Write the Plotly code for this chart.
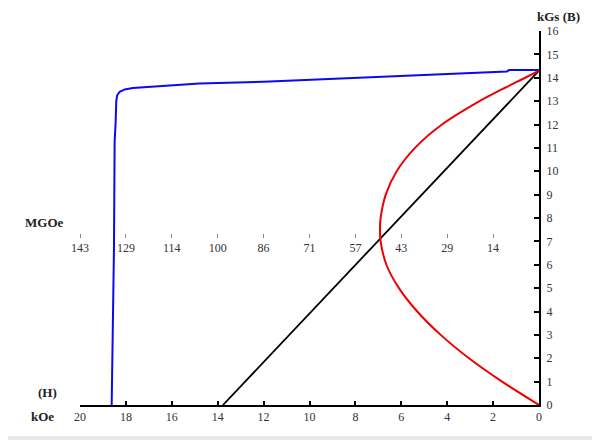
import plotly.graph_objects as go

# ---- data ----
# demagnetization curve (blue): H in kOe, B in kGs
blue_H = [0, 1.3, 1.4, 3.0, 6.0, 9.5, 10.4, 12.0, 14.8, 17.0, 17.7, 18.05, 18.27, 18.38, 18.42, 18.45, 18.49, 18.52, 18.57, 18.62]
blue_B = [14.33, 14.33, 14.27, 14.2, 14.08, 13.94, 13.9, 13.83, 13.75, 13.62, 13.56, 13.5, 13.4, 13.25, 13.0, 12.0, 11.3, 6.7, 3.0, 0.0]

# load line (black): H in kOe, B in kGs
black_H = [0, 13.77]
black_B = [14.3, 0]

# energy product (red): BH in MGOe, B in kGs
red_BH = [0, 11.5, 21.8, 30.6, 37.9, 43.6, 47.5, 49.3, 49.5, 49.3, 47.7, 44.3, 38.6, 30.2, 18.5, 11.6, 4.3, 0]
red_B = [0, 1, 2, 3, 4, 5, 6, 7, 7.5, 8, 9, 10, 11, 12, 13, 13.5, 14, 14.3]

# axes
kOe_ticks = [20, 18, 16, 14, 12, 10, 8, 6, 4, 2, 0]
kGs_ticks = list(range(0, 17))
MGOe_labels = ["143", "129", "114", "100", "86", "71", "57", "43", "29", "14"]
MGOe_at_20kOe = 142.88

# the page is drawn with an 8px body margin
OFF = 8
W, H = 600, 440
# plot area in screenshot pixels: x 80..539, y 31..405
X0, X1, Y0, Y1 = 80 - OFF, 539 - OFF, 31 - OFF, 405 - OFF
L, R, T, B = X0, W - X1, Y0, H - Y1
PW, PH = X1 - X0, Y1 - Y0


def px(x):
    return (x - OFF - X0) / PW


def py(y):
    return (Y1 - (y - OFF)) / PH


fig = go.Figure()
fig.add_trace(go.Scatter(x=blue_H, y=blue_B, mode="lines",
                         line=dict(color="#0a0af0", width=2), xaxis="x", yaxis="y"))
fig.add_trace(go.Scatter(x=black_H, y=black_B, mode="lines",
                         line=dict(color="#000000", width=1.8), xaxis="x", yaxis="y"))
fig.add_trace(go.Scatter(x=red_BH, y=red_B, mode="lines", line_shape="spline",
                         line=dict(color="#ee0000", width=2, smoothing=0.8),
                         xaxis="x2", yaxis="y"))

mg_vals = [MGOe_at_20kOe * (10 - i) / 10 for i in range(10)]

font_tick = dict(family="Liberation Serif", size=12, color="#333333")

fig.update_layout(
    width=W, height=H,
    margin=dict(l=L, r=R, t=T, b=B, pad=0),
    paper_bgcolor="#e9e9e9",
    plot_bgcolor="rgba(0,0,0,0)",
    showlegend=False,
    xaxis=dict(range=[20, 0], tickvals=kOe_ticks, ticks="inside", ticklen=4, tickwidth=2,
               tickcolor="black", showline=True, linecolor="black", linewidth=2,
               showgrid=False, zeroline=False, tickfont=font_tick, domain=[0, 1]),
    xaxis2=dict(range=[MGOe_at_20kOe, 0], overlaying="x", anchor="free", position=py(233),
                side="bottom", tickvals=mg_vals, ticktext=MGOe_labels, ticks="outside",
                ticklen=4, tickwidth=1, tickcolor="#888888", showline=False,
                showgrid=False, zeroline=False, tickfont=font_tick),
    yaxis=dict(range=[0, 16], tickvals=kGs_ticks, side="right", ticks="inside", ticklen=5,
               tickwidth=2, tickcolor="black", showline=True, linecolor="black", linewidth=2,
               showgrid=False, zeroline=False, tickfont=font_tick, ticklabelstandoff=3),
    shapes=[dict(type="rect", xref="paper", yref="paper", x0=px(-20), x1=px(594),
                 y0=py(436), y1=py(-20), fillcolor="white", line=dict(width=0), layer="below")],
)

lab_font = dict(family="Liberation Serif", size=13, color="#222222")
for text, x, y in [("<b>kGs (B)</b>", 558, 16), ("<b>MGOe</b>", 44, 222),
                   ("<b>(H)</b>", 47.5, 392.5), ("<b>kOe</b>", 42.5, 416.5)]:
    fig.add_annotation(text=text, x=px(x), y=py(y), xref="paper", yref="paper",
                       showarrow=False, xanchor="center", yanchor="middle", font=lab_font)

fig.write_html("out.html")
